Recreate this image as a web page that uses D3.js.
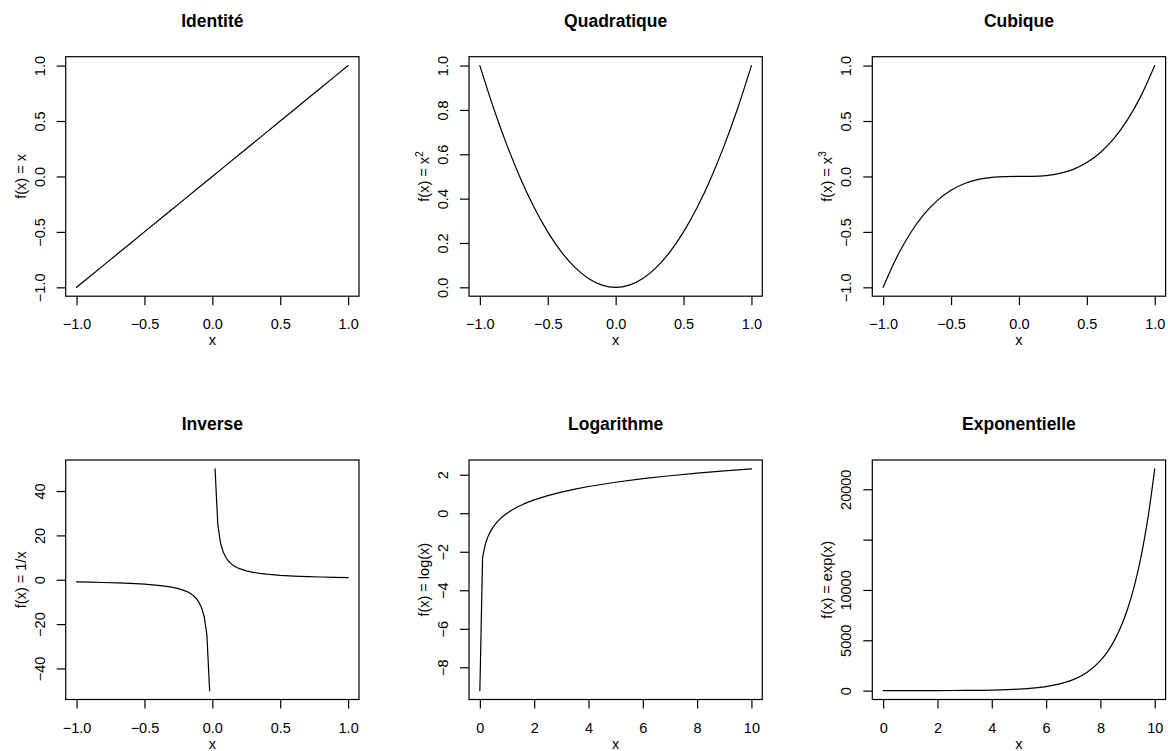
<!DOCTYPE html>
<html>
<head>
<meta charset="utf-8">
<script src="https://cdn.jsdelivr.net/npm/d3@7"></script>
<style>
  html, body { margin: 0; padding: 0; background: #fff; }
  svg { display: block; font-family: "Liberation Sans", Arial, Helvetica, sans-serif; }
</style>
</head>
<body>
<svg id="chart" width="1168" height="751"></svg>
<script>
// ---------- Data ----------
const titles = ["Identité", "Quadratique", "Cubique", "Inverse", "Logarithme", "Exponentielle"];

const xSym = [-1, -0.9, -0.8, -0.7, -0.6, -0.5, -0.4, -0.3, -0.2, -0.1, 0, 0.1, 0.2, 0.3, 0.4, 0.5, 0.6, 0.7, 0.8, 0.9, 1];
const yIdent = [-1, -0.9, -0.8, -0.7, -0.6, -0.5, -0.4, -0.3, -0.2, -0.1, 0, 0.1, 0.2, 0.3, 0.4, 0.5, 0.6, 0.7, 0.8, 0.9, 1];
const yQuad = [1, 0.81, 0.64, 0.49, 0.36, 0.25, 0.16, 0.09, 0.04, 0.01, 0, 0.01, 0.04, 0.09, 0.16, 0.25, 0.36, 0.49, 0.64, 0.81, 1];
const yCube = [-1, -0.729, -0.512, -0.343, -0.216, -0.125, -0.064, -0.027, -0.008, -0.001, 0, 0.001, 0.008, 0.027, 0.064, 0.125, 0.216, 0.343, 0.512, 0.729, 1];

const xInv = [-1, -0.9, -0.8, -0.7, -0.6, -0.5, -0.4, -0.35, -0.3, -0.25, -0.2, -0.18, -0.16, -0.14, -0.12, -0.1, -0.08, -0.06, -0.04, -0.02, 0,
              0.02, 0.04, 0.06, 0.08, 0.1, 0.12, 0.14, 0.16, 0.18, 0.2, 0.25, 0.3, 0.35, 0.4, 0.5, 0.6, 0.7, 0.8, 0.9, 1];
const yInv = [-1, -1.111, -1.25, -1.429, -1.667, -2, -2.5, -2.857, -3.333, -4, -5, -5.556, -6.25, -7.143, -8.333, -10, -12.5, -16.667, -25, -50, null,
              50, 25, 16.667, 12.5, 10, 8.333, 7.143, 6.25, 5.556, 5, 4, 3.333, 2.857, 2.5, 2, 1.667, 1.429, 1.25, 1.111, 1];

const xLog = [0.0001, 0.1, 0.2, 0.3, 0.4, 0.5, 0.6, 0.7, 0.8, 0.9, 1, 1.2, 1.4, 1.6, 1.8, 2, 2.5, 3, 3.5, 4, 5, 6, 7, 8, 9, 10];
const yLog = [-9.210, -2.303, -1.609, -1.204, -0.916, -0.693, -0.511, -0.357, -0.223, -0.105, 0, 0.182, 0.336, 0.470, 0.588, 0.693, 0.916, 1.099, 1.253, 1.386, 1.609, 1.792, 1.946, 2.079, 2.197, 2.303];

const xExp = [0, 1, 2, 3, 4, 5, 5.5, 6, 6.5, 7, 7.5, 8, 8.25, 8.5, 8.75, 9, 9.25, 9.5, 9.75, 10];
const yExp = [1, 2.72, 7.39, 20.09, 54.6, 148.4, 244.7, 403.4, 665.1, 1096.6, 1808.0, 2981.0, 3827.6, 4914.8, 6310.7, 8103.1, 10404.6, 13359.7, 17154.2, 22026.5];

// Tick values and labels
const xTicksSym = [-1, -0.5, 0, 0.5, 1];
const xTickLabelsSym = ["\u22121.0", "\u22120.5", "0.0", "0.5", "1.0"];
const xTicksTen = [0, 2, 4, 6, 8, 10];
const xTickLabelsTen = ["0", "2", "4", "6", "8", "10"];
const yTicks1 = [-1, -0.5, 0, 0.5, 1];
const yTickLabels1 = ["\u22121.0", "\u22120.5", "0.0", "0.5", "1.0"];
const yTicks2 = [0, 0.2, 0.4, 0.6, 0.8, 1];
const yTickLabels2 = ["0.0", "0.2", "0.4", "0.6", "0.8", "1.0"];
const yTicks4 = [-40, -20, 0, 20, 40];
const yTickLabels4 = ["\u221240", "\u221220", "0", "20", "40"];
const yTicks5 = [-8, -6, -4, -2, 0, 2];
const yTickLabels5 = ["\u22128", "\u22126", "\u22124", "\u22122", "0", "2"];
const yTicks6 = [0, 5000, 10000, 15000, 20000];
const yTickLabels6 = ["0", "5000", "10000", "", "20000"];

// y-axis label pieces: [main text, superscript, trailing]
const yLabels = [
  ["f(x) = x", null],
  ["f(x) = x", "2"],
  ["f(x) = x", "3"],
  ["f(x) = 1/x", null],
  ["f(x) = log(x)", null],
  ["f(x) = exp(x)", null]
];

// ---------- Panel specs ----------
function pts(xs, ys) { return xs.map((x, i) => ({x: x, y: ys[i]})); }
function ext(lo, hi) { const d = (hi - lo) * 0.04; return [lo - d, hi + d]; }

const panels = [
  {data: pts(xSym, yIdent), xd: ext(-1, 1), yd: ext(-1, 1), xt: xTicksSym, xl: xTickLabelsSym, yt: yTicks1, yl: yTickLabels1, curve: d3.curveLinear},
  {data: pts(xSym, yQuad), xd: ext(-1, 1), yd: ext(0, 1), xt: xTicksSym, xl: xTickLabelsSym, yt: yTicks2, yl: yTickLabels2, curve: d3.curveMonotoneX},
  {data: pts(xSym, yCube), xd: ext(-1, 1), yd: ext(-1, 1), xt: xTicksSym, xl: xTickLabelsSym, yt: yTicks1, yl: yTickLabels1, curve: d3.curveMonotoneX},
  {data: pts(xInv, yInv), xd: ext(-1, 1), yd: ext(-50, 50), xt: xTicksSym, xl: xTickLabelsSym, yt: yTicks4, yl: yTickLabels4, curve: d3.curveLinear},
  {data: pts(xLog, yLog), xd: ext(0.0001, 10.0001), yd: ext(-9.2103, 2.3026), xt: xTicksTen, xl: xTickLabelsTen, yt: yTicks5, yl: yTickLabels5, curve: d3.curveLinear},
  {data: pts(xExp, yExp), xd: ext(0, 10), yd: ext(1, 22026.47), xt: xTicksTen, xl: xTickLabelsTen, yt: yTicks6, yl: yTickLabels6, curve: d3.curveMonotoneX}
];

// ---------- Layout ----------
const colLeft = [65.7, 469, 872.3];
const rowTop = [56.7, 460];
const W = 293.3, H = 239.5;
const FS = 14.5, TFS = 17.5, LW = 1.2;

const svg = d3.select("#chart");

panels.forEach((p, i) => {
  const left = colLeft[i % 3], top = rowTop[Math.floor(i / 3)];
  const g = svg.append("g").attr("transform", `translate(${left},${top})`);
  const x = d3.scaleLinear().domain(p.xd).range([0, W]);
  const y = d3.scaleLinear().domain(p.yd).range([H, 0]);

  // Curve
  const line = d3.line()
    .defined(d => d.y !== null)
    .x(d => x(d.x)).y(d => y(d.y))
    .curve(p.curve);
  g.append("path").datum(p.data)
    .attr("d", line)
    .attr("fill", "none").attr("stroke", "#000").attr("stroke-width", LW)
    .attr("stroke-linejoin", "round").attr("stroke-linecap", "round");

  // Box
  g.append("rect").attr("x", 0).attr("y", 0).attr("width", W).attr("height", H)
    .attr("fill", "none").attr("stroke", "#000").attr("stroke-width", LW);

  // X axis
  const xa = g.append("g").attr("transform", `translate(0,${H})`)
    .call(d3.axisBottom(x).tickValues(p.xt).tickSize(9).tickFormat((d, k) => p.xl[k]));
  xa.select(".domain").remove();
  xa.selectAll(".tick line").attr("stroke", "#000").attr("stroke-width", LW);
  xa.selectAll(".tick text").attr("y", 33).attr("dy", 0)
    .attr("font-size", FS).attr("font-family", "Liberation Sans, Arial, sans-serif").attr("fill", "#000");

  // Y axis
  const ya = g.append("g")
    .call(d3.axisLeft(y).tickValues(p.yt).tickSize(9).tickFormat((d, k) => p.yl[k]));
  ya.select(".domain").remove();
  ya.selectAll(".tick line").attr("stroke", "#000").attr("stroke-width", LW);
  ya.selectAll(".tick text")
    .attr("x", 0).attr("y", -21).attr("dy", 0)
    .attr("transform", "rotate(-90)")
    .attr("text-anchor", "middle")
    .attr("font-size", FS).attr("font-family", "Liberation Sans, Arial, sans-serif").attr("fill", "#000");

  // Title
  g.append("text").attr("x", W / 2).attr("y", -30)
    .attr("text-anchor", "middle").attr("font-weight", "bold").attr("font-size", TFS)
    .attr("fill", "#000").text(titles[i]);

  // X label
  g.append("text").attr("x", W / 2).attr("y", H + 49)
    .attr("text-anchor", "middle").attr("font-size", FS).attr("fill", "#000").text("x");

  // Y label
  const yl = g.append("text")
    .attr("transform", `translate(-40,${H / 2}) rotate(-90)`)
    .attr("text-anchor", "middle").attr("font-size", FS).attr("fill", "#000");
  yl.append("tspan").text(yLabels[i][0]);
  if (yLabels[i][1]) {
    yl.append("tspan").attr("font-size", FS * 0.72).attr("dy", -6).text(yLabels[i][1]);
  }
});
</script>
</body>
</html>
